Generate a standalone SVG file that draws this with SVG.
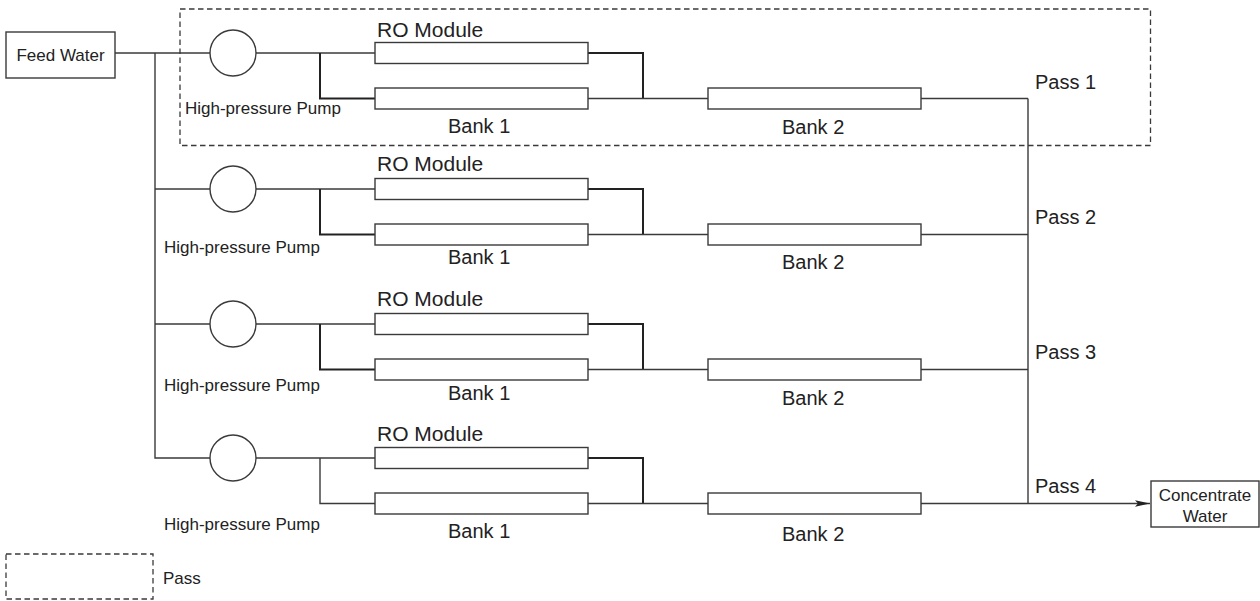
<svg xmlns="http://www.w3.org/2000/svg" width="1260" height="601" viewBox="0 0 1260 601">
<style>
.ln{stroke:#3a3a3a;stroke-width:1.4;fill:none}
.thk{stroke:#222;stroke-width:2;fill:none}
.box{stroke:#3a3a3a;stroke-width:1.4;fill:#fff}
.dash{stroke:#3a3a3a;stroke-width:1.3;fill:none;stroke-dasharray:5.5 3.5}
.t{font-family:"Liberation Sans",Arial,sans-serif;fill:#222}
.s17{font-size:17px}
.s20{font-size:20px}
.s21{font-size:21px}
</style>
<defs>
<marker id="arr" markerWidth="16" markerHeight="8" refX="15" refY="4" orient="auto" markerUnits="userSpaceOnUse">
<path d="M0,0.8 L15,4 L0,7.2 L3,4 Z" fill="#222"/>
</marker>
</defs>
<rect width="1260" height="601" fill="#fff"/>

<g id="pass1-frame"><rect class="dash" x="180" y="9" width="970.5" height="136.5"/></g>

<g id="connectors">
<path class="ln" d="M115,53 H210"/>
<path class="ln" d="M155,53 V458 H210"/>
<path class="ln" d="M155,189 H210"/>
<path class="ln" d="M155,324 H210"/>
<path class="ln" d="M256,53 H375"/>
<path class="thk" d="M320,53 V98.5 H375"/>
<path class="thk" d="M588,53 H643 V98.5"/>
<path class="ln" d="M588,98.5 H708"/>
<path class="ln" d="M921,98.5 H1028"/>
<path class="ln" d="M256,189 H375"/>
<path class="thk" d="M320,189 V234.5 H375"/>
<path class="thk" d="M588,189 H643 V234.5"/>
<path class="ln" d="M588,234.5 H708"/>
<path class="ln" d="M921,234.5 H1028"/>
<path class="ln" d="M256,324 H375"/>
<path class="thk" d="M320,324 V369.5 H375"/>
<path class="thk" d="M588,324 H643 V369.5"/>
<path class="ln" d="M588,369.5 H708"/>
<path class="ln" d="M921,369.5 H1028"/>
<path class="ln" d="M256,458 H375"/>
<path class="ln" d="M320,458 V503.5 H375"/>
<path class="thk" d="M588,458 H643 V503.5"/>
<path class="ln" d="M588,503.5 H708"/>
<path class="ln" d="M1028,98.5 V503.5"/>
<path class="ln" d="M921,503.5 H1150" marker-end="url(#arr)"/>
</g>

<g id="feed-water">
<rect class="box" x="6" y="32" width="109" height="46"/>
<text class="t s17" x="60.5" y="61" text-anchor="middle">Feed Water</text>
</g>

<g id="concentrate-water">
<rect class="box" x="1151" y="481" width="108" height="46"/>
<text class="t s17" x="1205" y="501" text-anchor="middle">Concentrate</text>
<text class="t s17" x="1205" y="522" text-anchor="middle">Water</text>
</g>

<g id="row1">
<circle class="box" cx="233" cy="53" r="23"/>
<text class="t s17" x="185" y="114">High-pressure Pump</text>
<text class="t s21" x="377" y="37">RO Module</text>
<rect class="box" x="375" y="42.5" width="213" height="21"/>
<rect class="box" x="375" y="88" width="213" height="21"/>
<text class="t s20" x="448" y="133">Bank 1</text>
<rect class="box" x="708" y="88" width="213" height="21"/>
<text class="t s20" x="782" y="134">Bank 2</text>
<text class="t s20" x="1035" y="89">Pass 1</text>
</g>

<g id="row2">
<circle class="box" cx="233" cy="189" r="23"/>
<text class="t s17" x="164" y="253">High-pressure Pump</text>
<text class="t s21" x="377" y="171">RO Module</text>
<rect class="box" x="375" y="178.5" width="213" height="21"/>
<rect class="box" x="375" y="224" width="213" height="21"/>
<text class="t s20" x="448" y="264">Bank 1</text>
<rect class="box" x="708" y="224" width="213" height="21"/>
<text class="t s20" x="782" y="269">Bank 2</text>
<text class="t s20" x="1035" y="224">Pass 2</text>
</g>

<g id="row3">
<circle class="box" cx="233" cy="324" r="23"/>
<text class="t s17" x="164" y="391">High-pressure Pump</text>
<text class="t s21" x="377" y="306">RO Module</text>
<rect class="box" x="375" y="313.5" width="213" height="21"/>
<rect class="box" x="375" y="359" width="213" height="21"/>
<text class="t s20" x="448" y="400">Bank 1</text>
<rect class="box" x="708" y="359" width="213" height="21"/>
<text class="t s20" x="782" y="405">Bank 2</text>
<text class="t s20" x="1035" y="359">Pass 3</text>
</g>

<g id="row4">
<circle class="box" cx="233" cy="458" r="23"/>
<text class="t s17" x="164" y="530">High-pressure Pump</text>
<text class="t s21" x="377" y="441">RO Module</text>
<rect class="box" x="375" y="447.5" width="213" height="21"/>
<rect class="box" x="375" y="493" width="213" height="21"/>
<text class="t s20" x="448" y="538">Bank 1</text>
<rect class="box" x="708" y="493" width="213" height="21"/>
<text class="t s20" x="782" y="541">Bank 2</text>
<text class="t s20" x="1035" y="493">Pass 4</text>
</g>

<g id="legend">
<rect class="dash" x="6" y="554" width="147" height="45"/>
<text class="t s17" x="163" y="584">Pass</text>
</g>
</svg>
